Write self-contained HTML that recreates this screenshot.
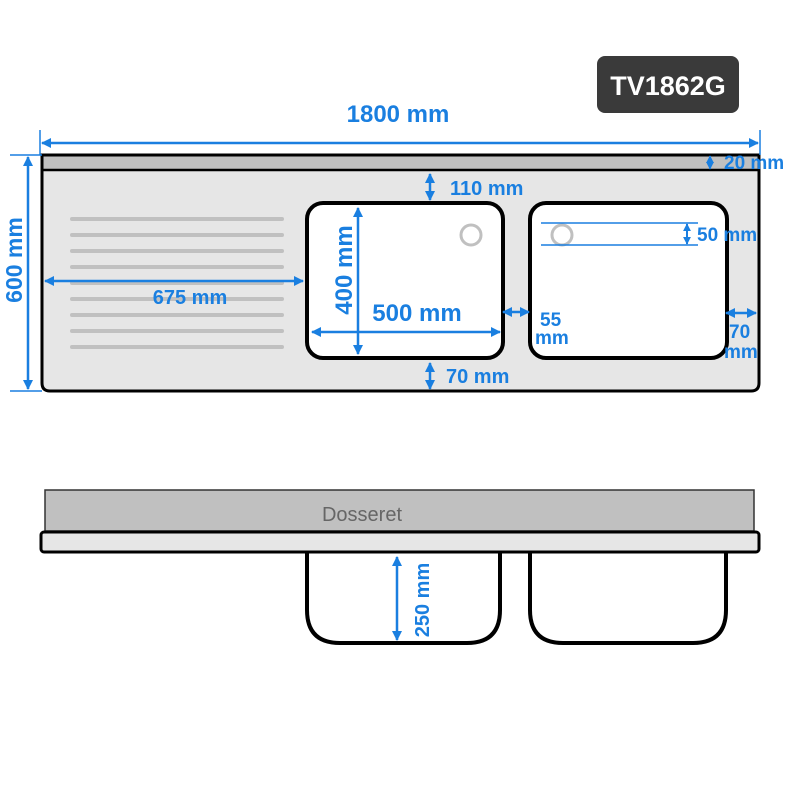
<!DOCTYPE html>
<html><head><style>body{margin:0;background:#fff}svg{display:block}</style></head><body>
<svg width="800" height="800" viewBox="0 0 800 800" xmlns="http://www.w3.org/2000/svg" font-family="Liberation Sans, sans-serif">
<defs>
<marker id="a" viewBox="0 0 10 10" refX="9" refY="5" markerWidth="4" markerHeight="4" orient="auto-start-reverse"><path d="M0,0L10,5L0,10z" fill="#1a7fe0"/></marker>
</defs>
<rect x="597" y="56" width="142" height="57" rx="8" fill="#3a3a3a"/>
<text x="668" y="95" text-anchor="middle" fill="#fff" font-weight="bold" font-size="27">TV1862G</text>
<path d="M42,155H759V383Q759,391 751,391H50Q42,391 42,383Z" fill="#e6e6e6" stroke="#000" stroke-width="3"/>
<rect x="43.5" y="156.5" width="714" height="13" fill="#c0c0c0"/>
<line x1="42" y1="170" x2="759" y2="170" stroke="#000" stroke-width="2.5"/>
<g stroke="#c0c0c0" stroke-width="4" stroke-linecap="round">
<line x1="72" y1="219" x2="282" y2="219"/><line x1="72" y1="235" x2="282" y2="235"/><line x1="72" y1="251" x2="282" y2="251"/><line x1="72" y1="267" x2="282" y2="267"/><line x1="72" y1="283" x2="282" y2="283"/><line x1="72" y1="299" x2="282" y2="299"/><line x1="72" y1="315" x2="282" y2="315"/><line x1="72" y1="331" x2="282" y2="331"/><line x1="72" y1="347" x2="282" y2="347"/>
</g>
<rect x="307" y="203" width="196" height="155" rx="16" fill="#fff" stroke="#000" stroke-width="4"/>
<rect x="530" y="203" width="197" height="155" rx="16" fill="#fff" stroke="#000" stroke-width="4"/>
<circle cx="471" cy="235" r="10" fill="none" stroke="#c0c0c0" stroke-width="3"/>
<circle cx="562" cy="235" r="10" fill="none" stroke="#c0c0c0" stroke-width="3"/>
<!-- side view -->
<rect x="45" y="490" width="709" height="41" fill="#c0c0c0" stroke="#333" stroke-width="1.5"/>
<text x="362" y="521" text-anchor="middle" fill="#666" font-size="20">Dosseret</text>
<path d="M307,552V610Q307,643 340,643H467Q500,643 500,610V552" fill="#fff" stroke="#000" stroke-width="4"/>
<path d="M530,552V610Q530,643 563,643H693Q726,643 726,610V552" fill="#fff" stroke="#000" stroke-width="4"/>
<rect x="41" y="532" width="718" height="20" rx="3" fill="#e6e6e6" stroke="#000" stroke-width="3"/>
<g stroke="#1a7fe0" stroke-width="2.5" fill="none">
<line x1="42" y1="143" x2="758" y2="143" marker-start="url(#a)" marker-end="url(#a)"/>
<line x1="40" y1="130" x2="40" y2="155" stroke-width="1.5"/><line x1="760" y1="130" x2="760" y2="155" stroke-width="1.5"/>
<line x1="28" y1="157" x2="28" y2="389" marker-start="url(#a)" marker-end="url(#a)"/>
<line x1="10" y1="155" x2="42" y2="155" stroke-width="1.5"/><line x1="10" y1="391" x2="42" y2="391" stroke-width="1.5"/>
<line x1="45" y1="281" x2="303" y2="281" marker-start="url(#a)" marker-end="url(#a)"/>
<line x1="358" y1="208" x2="358" y2="354" marker-start="url(#a)" marker-end="url(#a)"/>
<line x1="312" y1="332" x2="500" y2="332" marker-start="url(#a)" marker-end="url(#a)"/>
<line x1="430" y1="174" x2="430" y2="200" marker-start="url(#a)" marker-end="url(#a)"/>
<line x1="430" y1="363" x2="430" y2="389" marker-start="url(#a)" marker-end="url(#a)"/>
<line x1="503" y1="312" x2="529" y2="312" marker-start="url(#a)" marker-end="url(#a)"/>
<line x1="726" y1="313" x2="756" y2="313" marker-start="url(#a)" marker-end="url(#a)"/>
<line x1="710" y1="156" x2="710" y2="169" stroke-width="2" marker-start="url(#a)" marker-end="url(#a)"/>
<line x1="541" y1="223" x2="698" y2="223" stroke-width="1.5"/><line x1="541" y1="245" x2="698" y2="245" stroke-width="1.5"/>
<line x1="687" y1="224" x2="687" y2="244" stroke-width="2" marker-start="url(#a)" marker-end="url(#a)"/>
<line x1="397" y1="557" x2="397" y2="640" marker-start="url(#a)" marker-end="url(#a)"/>
</g>
<g fill="#1a7fe0" font-weight="bold">
<text x="398" y="122" text-anchor="middle" font-size="24">1800 mm</text>
<text transform="translate(22,260) rotate(-90)" text-anchor="middle" font-size="23">600 mm</text>
<text x="190" y="304" text-anchor="middle" font-size="20">675 mm</text>
<text transform="translate(352,270) rotate(-90)" text-anchor="middle" font-size="24">400 mm</text>
<text x="417" y="321" text-anchor="middle" font-size="24">500 mm</text>
<text x="450" y="195" font-size="20">110 mm</text>
<text x="446" y="383" font-size="20">70 mm</text>
<text x="540" y="326" font-size="19">55</text>
<text x="535" y="344" font-size="19">mm</text>
<text x="729" y="338" font-size="19">70</text>
<text x="724" y="358" font-size="19">mm</text>
<text x="724" y="169" font-size="19">20 mm</text>
<text x="697" y="241" font-size="19">50 mm</text>
<text transform="translate(429,600) rotate(-90)" text-anchor="middle" font-size="20">250 mm</text>
</g>
</svg>
</body></html>
